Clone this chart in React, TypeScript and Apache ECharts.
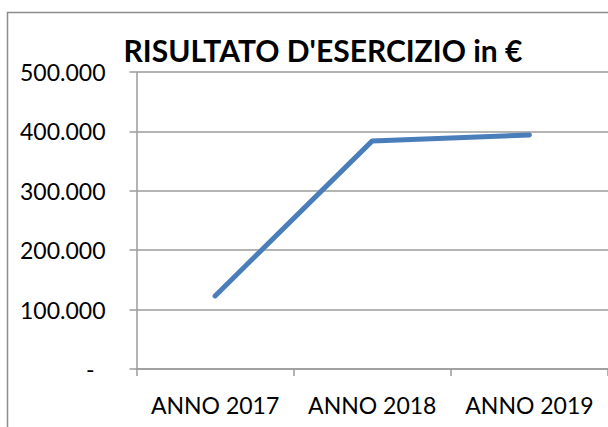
import React, { useEffect, useRef } from "react";
import * as echarts from "echarts";

const categories = ["ANNO 2017", "ANNO 2018", "ANNO 2019"];
const values = [123000, 384000, 394000];
const titleText = "RISULTATO D'ESERCIZIO in €";

const fmt = (v: number) => {
  if (v === 0) return "{d|-}";
  return String(Math.round(v / 1000)) + ".000";
};

export default function App() {
  const ref = useRef<HTMLDivElement>(null);
  useEffect(() => {
    document.body.style.margin = "0";
    const chart = echarts.init(ref.current!, null, { renderer: "svg" });
    chart.setOption({
      animation: false,
      backgroundColor: "#ffffff",
      graphic: [
        {
          type: "rect",
          shape: { x: 7.5, y: 12.5, width: 700, height: 500 },
          style: { fill: "none", stroke: "#8c8c8c", lineWidth: 1.5 },
          silent: true,
        },
        {
          type: "text",
          x: 323,
          y: 50,
          style: {
            text: titleText,
            fontFamily: "Lato",
            fontWeight: "bold",
            fontSize: 30,
            fill: "#000000",
            textAlign: "center",
            textVerticalAlign: "middle",
          },
        },
      ],
      grid: { left: 136.5, top: 72, bottom: 58, width: 475 },
      xAxis: {
        type: "category",
        data: categories,
        boundaryGap: true,
        axisLine: { show: true, lineStyle: { color: "#9b9b9b", width: 1.5 } },
        axisTick: { show: true, length: 7, lineStyle: { color: "#9b9b9b", width: 1.5 } },
        axisLabel: {
          interval: 0,
          hideOverlap: false,
          margin: 24,
          fontFamily: "Lato",
          fontSize: 23,
          lineHeight: 23,
          color: "#000000",
        },
        splitLine: { show: false },
      },
      yAxis: {
        type: "value",
        min: 0,
        max: 500000,
        interval: 100000,
        axisLine: { show: true, lineStyle: { color: "#9b9b9b", width: 1.5 } },
        axisTick: { show: true, length: 7, lineStyle: { color: "#9b9b9b", width: 1.5 } },
        axisLabel: {
          margin: 31,
          fontFamily: "Lato",
          fontSize: 23,
          color: "#000000",
          formatter: fmt,
          rich: { d: { fontFamily: "Lato", fontSize: 23, color: "#000000", padding: [0, 11, 0, 0] } },
        },
        splitLine: { show: true, lineStyle: { color: "#9b9b9b", width: 1.5 } },
      },
      series: [
        {
          type: "line",
          data: values,
          symbol: "none",
          lineStyle: { color: "#4a7ebb", width: 5, cap: "round", join: "round" },
        },
      ],
    });
    return () => chart.dispose();
  }, []);
  return <div ref={ref} style={{ width: 608, height: 427 }} />;
}
